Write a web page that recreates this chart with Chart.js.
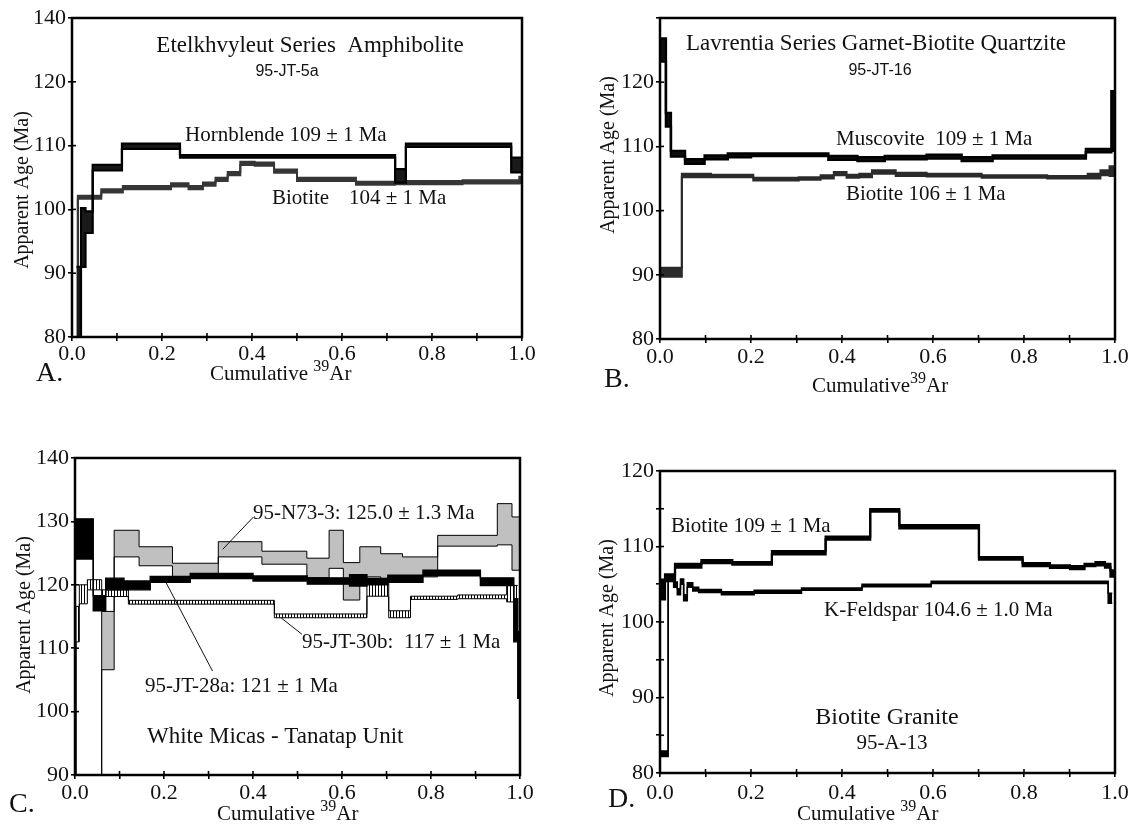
<!DOCTYPE html>
<html><head><meta charset="utf-8">
<script src="https://cdn.jsdelivr.net/npm/chart.js@4.4.1/dist/chart.umd.min.js"></script>
<style>
html,body{margin:0;padding:0;background:#fff;width:1133px;height:826px;overflow:hidden}
canvas{position:absolute;display:block}
</style></head><body>
<canvas id="pA" width="566" height="415" style="left:0;top:0"></canvas>
<canvas id="pB" width="567" height="415" style="left:566px;top:0"></canvas>
<canvas id="pC" width="566" height="411" style="left:0;top:415px"></canvas>
<canvas id="pD" width="567" height="411" style="left:566px;top:415px"></canvas>
<script>
// ---------------- tick labels ----------------
const xTickLabels = ['0.0','','0.2','','0.4','','0.6','','0.8','','1.0'];
const aYTickValues = [80,90,100,110,120,130];
const aYTickLabels = ['80','90','100','110','120','140'];
const bYTickValues = [80,90,100,110,120,130];
const bYTickLabels = ['80','90','100','110','120',''];
const cYTickValues = [90,100,110,120,130,140];
const cYTickLabels = ['90','100','110','120','130','140'];
const dYTickValues = [80,85,90,95,100,105,110,115,120];
const dYTickLabels = ['80','','90','','100','','110','','120'];

// ---------------- Panel A: 95-JT-5a ----------------
// step boundaries (cumulative 39Ar) and lower / upper age (Ma) of each step
const aHblX  = [0.010,0.020,0.030,0.046,0.111,0.240,0.718,0.742,0.976,1.000];
const aHblLo = [76.0, 91.0, 96.3, 106.1,109.5,108.1,104.2,109.8,105.8];
const aHblHi = [91.0, 100.2,99.7, 107.0,110.3,108.5,106.3,110.3,108.1];
const aBtX  = [0.000,0.013,0.065,0.113,0.220,0.259,0.291,0.319,0.346,0.374,0.406,0.449,0.500,0.631,0.718,0.868,0.994,1.000];
const aBtLo = [74.5,101.65,102.65,103.15,103.6,103.15,103.7,104.45,105.35,106.95,106.85,105.75,104.45,103.85,103.95,104.05,104.1];
const aBtHi = [75.0,102.15,103.15,103.65,104.1,103.65,104.2,104.95,105.85,107.45,107.35,106.25,104.95,104.35,104.45,104.55,105.1];

// ---------------- Panel B: 95-JT-16 ----------------
const bMsX  = [0.000,0.013,0.024,0.055,0.098,0.149,0.200,0.370,0.434,0.494,0.586,0.663,0.731,0.936,0.992,1.000];
const bMsLo = [123.2,113.1,108.4,107.3,108.0,108.3,108.5,107.9,107.7,108.0,108.1,107.7,108.1,109.1,109.3];
const bMsHi = [126.8,115.2,109.3,108.0,108.6,108.9,108.9,108.5,108.3,108.5,108.7,108.3,108.6,109.6,118.6];
const bBtX  = [0.000,0.048,0.112,0.205,0.305,0.353,0.382,0.410,0.438,0.466,0.518,0.586,0.707,0.851,0.940,0.968,0.988,1.000];
const bBtLo = [89.7,105.2,105.2,104.7,104.8,105.0,105.5,105.1,105.2,105.75,105.4,105.3,105.1,105.0,105.0,105.5,105.4];
const bBtHi = [91.1,105.75,105.6,105.1,105.2,105.5,106.0,105.6,105.75,106.3,105.9,105.75,105.5,105.4,105.75,106.3,106.9];

// ---------------- Panel C: white micas ----------------
const cN73X  = [0.000,0.060,0.088,0.144,0.219,0.322,0.420,0.521,0.571,0.603,0.640,0.687,0.736,0.815,0.949,0.982,0.998];
const cN73Lo = [84.0,106.6,124.4,123.0,121.3,124.4,123.25,121.1,122.6,117.6,121.25,121.0,121.25,126.1,126.3,122.3];
const cN73Hi = [86.0,115.8,128.6,126.0,123.4,126.8,125.3,124.2,128.6,123.5,126.0,124.9,124.4,127.8,132.8,130.7];
const c28aX  = [0.000,0.041,0.069,0.110,0.169,0.259,0.400,0.522,0.617,0.656,0.703,0.782,0.911,0.986,0.995,1.000];
const c28aLo = [124.05,115.9,119.2,119.2,120.4,121.0,120.6,120.1,119.8,120.0,120.4,121.4,119.9,111.0,102.1];
const c28aHi = [130.4,118.3,121.05,120.6,121.3,121.8,121.4,121.1,121.6,121.0,121.5,122.3,121.1,117.8,112.6];
const c30bX  = [0.000,0.0023,0.0097,0.0277,0.060,0.120,0.448,0.656,0.705,0.754,0.860,0.970,0.995];
const c30bLo = [82.0,111.0,117.0,119.2,118.15,116.95,114.8,118.2,114.8,117.7,117.8,117.3];
const c30bHi = [88.0,116.6,120.0,120.8,119.2,117.55,115.4,120.5,115.9,118.2,118.4,119.9];

// ---------------- Panel D: 95-A-13 ----------------
const dBtX  = [0.000,0.011,0.033,0.091,0.159,0.246,0.364,0.462,0.526,0.701,0.797,0.857,0.901,0.933,0.957,0.978,0.990,1.000];
const dBtLo = [103.0,105.4,107.2,107.8,107.6,108.95,110.9,114.6,112.4,108.25,107.4,107.15,107.0,107.4,107.5,107.2,106.0];
const dBtHi = [105.6,106.3,107.7,108.2,107.95,109.4,111.3,114.95,112.85,108.6,107.8,107.5,107.4,107.7,107.95,107.7,106.85];
const dKfX  = [0.000,0.018,0.030,0.038,0.045,0.052,0.060,0.072,0.085,0.135,0.207,0.311,0.444,0.596,0.729,0.985,0.994];
const dKfLo = [82.2,105.5,104.6,103.6,105.0,102.8,104.6,104.1,103.9,103.6,103.8,104.2,104.66,105.1,105.1,102.5];
const dKfHi = [82.9,106.2,105.3,104.4,105.7,103.6,105.2,104.6,104.3,104.0,104.2,104.5,105.0,105.4,105.4,103.8];

// ---------------- helpers ----------------
const SERIF = '"Liberation Serif","Times New Roman",serif';
const SANS = '"Liberation Sans",Arial,sans-serif';
const INK = '#111';

function stepPts(xs, ys) {
  const pts = ys.map((y, i) => ({x: xs[i], y: y}));
  pts.push({x: xs[xs.length - 1], y: ys[ys.length - 1]});
  return pts;
}
function spectrum(xs, lo, hi, st) {
  const base = {type: 'line', stepped: true, pointRadius: 0, borderColor: st.line, borderWidth: st.w,
                borderJoinStyle: 'miter', borderCapStyle: 'butt', tension: 0};
  return [
    Object.assign({}, base, {data: stepPts(xs, lo), fill: false}),
    Object.assign({}, base, {data: stepPts(xs, hi), fill: st.fill ? '-1' : false, backgroundColor: st.fill || 'transparent'})
  ];
}
function hatchPattern() {
  const c = document.createElement('canvas'); c.width = 3; c.height = 4;
  const g = c.getContext('2d');
  g.fillStyle = '#fff'; g.fillRect(0, 0, 3, 4);
  g.fillStyle = '#000'; g.fillRect(0, 0, 1, 4);
  return g.createPattern(c, 'repeat');
}
function labelFn(vals, labs) {
  return v => { const i = vals.findIndex(t => Math.abs(t - v) < 1e-6); return i < 0 ? '' : labs[i]; };
}

const framePlugin = {
  id: 'frame',
  afterDatasetsDraw(chart) {
    const {ctx, chartArea: a} = chart;
    ctx.save();
    ctx.strokeStyle = '#000';
    ctx.lineWidth = 1.6;
    chart.scales.x.ticks.forEach(t => {
      const px = chart.scales.x.getPixelForValue(t.value);
      ctx.beginPath(); ctx.moveTo(px, a.bottom); ctx.lineTo(px, a.bottom - 4); ctx.stroke();
    });
    chart.scales.y.ticks.forEach(t => {
      const py = chart.scales.y.getPixelForValue(t.value);
      ctx.beginPath(); ctx.moveTo(a.left, py); ctx.lineTo(a.left + 4, py); ctx.stroke();
    });
    ctx.lineWidth = 2.5;
    ctx.strokeRect(a.left, a.top, a.right - a.left, a.bottom - a.top);
    ctx.restore();
  }
};

const notesPlugin = {
  id: 'notes',
  afterDraw(chart, args, opts) {
    const ctx = chart.ctx;
    ctx.save();
    ctx.fillStyle = INK; ctx.strokeStyle = INK;
    (opts.items || []).forEach(n => {
      if (n.t === 'text') {
        ctx.font = n.font; ctx.textAlign = n.align || 'left'; ctx.textBaseline = 'alphabetic';
        ctx.fillText(n.s, n.x, n.y);
      } else if (n.t === 'rich') {
        let x = n.x;
        ctx.textAlign = 'left'; ctx.textBaseline = 'alphabetic';
        n.runs.forEach(r => { ctx.font = r.font; ctx.fillText(r.s, x, n.y + (r.dy || 0)); x += ctx.measureText(r.s).width; });
      } else if (n.t === 'vtext') {
        ctx.save(); ctx.translate(n.x, n.y); ctx.rotate(-Math.PI / 2);
        ctx.font = n.font; ctx.textAlign = 'center'; ctx.textBaseline = 'middle';
        ctx.fillText(n.s, 0, 0); ctx.restore();
      } else if (n.t === 'leader') {
        const xs = chart.scales.x, ys = chart.scales.y;
        ctx.lineWidth = 1;
        ctx.beginPath();
        ctx.moveTo(xs.getPixelForValue(n.x1), ys.getPixelForValue(n.y1));
        ctx.lineTo(xs.getPixelForValue(n.x2), ys.getPixelForValue(n.y2));
        ctx.stroke();
      }
    });
    ctx.restore();
  }
};

function cumTitle(x, y, gap) {
  return {t: 'rich', x: x, y: y, runs: [
    {s: gap ? 'Cumulative ' : 'Cumulative', font: '21px ' + SERIF},
    {s: '39', font: '16px ' + SERIF, dy: -9},
    {s: 'Ar', font: '21px ' + SERIF}
  ]};
}
function yTitle(x, y) { return {t: 'vtext', s: 'Apparent Age (Ma)', x: x, y: y, font: '20px ' + SERIF}; }

function makePanel(id, p) {
  const ctx = document.getElementById(id).getContext('2d');
  return new Chart(ctx, {
    type: 'line',
    data: {datasets: p.datasets},
    plugins: [framePlugin, notesPlugin],
    options: {
      responsive: false, animation: false, devicePixelRatio: 1,
      layout: {padding: {left: 0, right: p.padRight, top: p.padTop, bottom: 0}},
      plugins: {legend: {display: false}, tooltip: {enabled: false}, notes: {items: p.notes}},
      elements: {point: {radius: 0}},
      scales: {
        x: {type: 'linear', min: 0, max: 1,
            afterFit: s => { s.height = p.xh; },
            border: {display: false},
            grid: {display: true, drawOnChartArea: false, drawTicks: true, tickLength: 4, lineWidth: 1.6, color: '#000'},
            ticks: {stepSize: 0.1, autoSkip: false, maxRotation: 0, padding: p.xPad,
                    color: INK, font: {family: SERIF, size: 22},
                    callback: (v, i) => xTickLabels[i] || ''}},
        y: {type: 'linear', min: p.yMin, max: p.yMax,
            afterFit: s => { s.width = p.yw; },
            border: {display: false},
            grid: {display: true, drawOnChartArea: false, drawTicks: true, tickLength: 4, lineWidth: 1.6, color: '#000'},
            ticks: {stepSize: p.yStep, autoSkip: false, padding: 2, color: INK, font: {family: SERIF, size: 22},
                    callback: p.yLabel}}
      }
    }
  });
}

// ---------------- Panel A ----------------
makePanel('pA', {
  yMin: 80, yMax: 130, yStep: 10, yLabel: labelFn(aYTickValues, aYTickLabels),
  yw: 72, xh: 78, padRight: 44, padTop: 18, xPad: 0,
  datasets: [].concat(
    spectrum(aHblX, aHblLo, aHblHi, {line: '#000', w: 2.2, fill: '#1a1a1a'}),
    spectrum(aBtX, aBtLo, aBtHi, {line: '#363636', w: 2, fill: '#363636'})
  ),
  notes: [
    {t: 'text', s: 'Etelkhvyleut Series  Amphibolite', x: 310, y: 52, font: '23px ' + SERIF, align: 'center'},
    {t: 'text', s: '95-JT-5a', x: 287, y: 76, font: '16px ' + SANS, align: 'center'},
    {t: 'text', s: 'Hornblende 109 ± 1 Ma', x: 185, y: 141, font: '21px ' + SERIF},
    {t: 'text', s: 'Biotite', x: 272, y: 204, font: '21px ' + SERIF},
    {t: 'text', s: '104 ± 1 Ma', x: 349, y: 204, font: '21px ' + SERIF},
    {t: 'text', s: 'A.', x: 36, y: 381, font: '28px ' + SERIF},
    cumTitle(210, 380, true),
    yTitle(23, 190)
  ]
});

// ---------------- Panel B ----------------
makePanel('pB', {
  yMin: 80, yMax: 130, yStep: 10, yLabel: labelFn(bYTickValues, bYTickLabels),
  yw: 94, xh: 76, padRight: 18, padTop: 18, xPad: 1,
  datasets: [].concat(
    spectrum(bMsX, bMsLo, bMsHi, {line: '#000', w: 2.4, fill: '#0d0d0d'}),
    spectrum(bBtX, bBtLo, bBtHi, {line: '#2b2b2b', w: 2, fill: '#2b2b2b'})
  ),
  notes: [
    {t: 'text', s: 'Lavrentia Series Garnet-Biotite Quartzite', x: 310, y: 50, font: '23px ' + SERIF, align: 'center'},
    {t: 'text', s: '95-JT-16', x: 314, y: 75, font: '16px ' + SANS, align: 'center'},
    {t: 'text', s: 'Muscovite  109 ± 1 Ma', x: 270, y: 145, font: '21px ' + SERIF},
    {t: 'text', s: 'Biotite 106 ± 1 Ma', x: 280, y: 200, font: '21px ' + SERIF},
    {t: 'text', s: 'B.', x: 38, y: 387, font: '28px ' + SERIF},
    cumTitle(246, 392, false),
    yTitle(43, 155)
  ]
});

// ---------------- Panel C ----------------
makePanel('pC', {
  yMin: 90, yMax: 140, yStep: 10, yLabel: labelFn(cYTickValues, cYTickLabels),
  yw: 75, xh: 51, padRight: 46, padTop: 43, xPad: 1,
  datasets: [].concat(
    spectrum(c28aX, c28aLo, c28aHi, {line: '#000', w: 1.4, fill: '#000'}),
    spectrum(c30bX, c30bLo, c30bHi, {line: '#000', w: 1, fill: hatchPattern()}),
    spectrum(cN73X, cN73Lo, cN73Hi, {line: '#000', w: 1, fill: '#c0c0c0'})
  ),
  notes: [
    {t: 'text', s: '95-N73-3: 125.0 ± 1.3 Ma', x: 253, y: 104, font: '21px ' + SERIF},
    {t: 'text', s: '95-JT-30b:  117 ± 1 Ma', x: 302, y: 233, font: '21px ' + SERIF},
    {t: 'text', s: '95-JT-28a: 121 ± 1 Ma', x: 145, y: 277, font: '21px ' + SERIF},
    {t: 'text', s: 'White Micas - Tanatap Unit', x: 147, y: 328, font: '23px ' + SERIF},
    {t: 'leader', x1: 0.401, y1: 130.7, x2: 0.332, y2: 125.6},
    {t: 'leader', x1: 0.510, y1: 112.2, x2: 0.463, y2: 114.8},
    {t: 'leader', x1: 0.309, y1: 106.4, x2: 0.205, y2: 120.3},
    {t: 'text', s: 'C.', x: 9, y: 397, font: '28px ' + SERIF},
    cumTitle(217, 405, true),
    yTitle(25, 200)
  ]
});

// ---------------- Panel D ----------------
makePanel('pD', {
  yMin: 80, yMax: 120, yStep: 5, yLabel: labelFn(dYTickValues, dYTickLabels),
  yw: 94, xh: 53, padRight: 18, padTop: 56, xPad: 3,
  datasets: [].concat(
    spectrum(dBtX, dBtLo, dBtHi, {line: '#000', w: 2.2, fill: '#000'}),
    spectrum(dKfX, dKfLo, dKfHi, {line: '#000', w: 1.5, fill: '#000'})
  ),
  notes: [
    {t: 'text', s: 'Biotite 109 ± 1 Ma', x: 105, y: 117, font: '21px ' + SERIF},
    {t: 'text', s: 'K-Feldspar 104.6 ± 1.0 Ma', x: 258, y: 201, font: '21px ' + SERIF},
    {t: 'text', s: 'Biotite Granite', x: 321, y: 309, font: '24px ' + SERIF, align: 'center'},
    {t: 'text', s: '95-A-13', x: 326, y: 334, font: '21px ' + SERIF, align: 'center'},
    {t: 'text', s: 'D.', x: 42, y: 392, font: '28px ' + SERIF},
    cumTitle(231, 405, true),
    yTitle(42, 203)
  ]
});
</script></body></html>
